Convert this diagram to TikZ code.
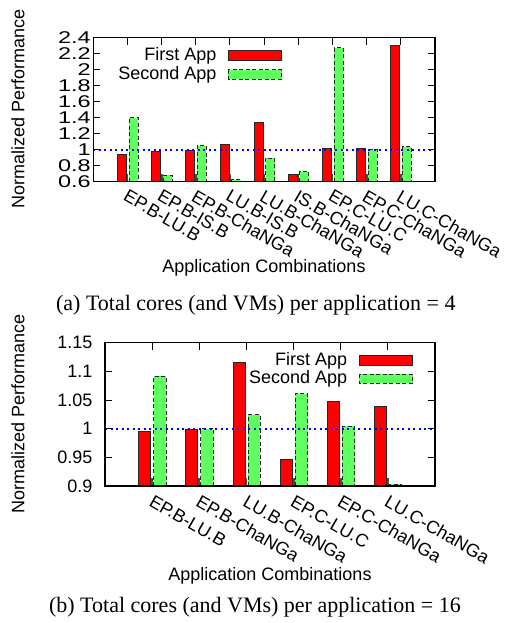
\documentclass[tikz,border=0pt]{standalone}
\usepackage{fontspec}
\setmainfont{Liberation Serif}
\newfontfamily\plotfont{Liberation Sans}
\begin{document}
\begin{tikzpicture}[x=1pt,y=-1pt,
  every node/.style={inner sep=0pt},
  plottext/.style={font=\plotfont\fontsize{18}{20}\selectfont},
  widetick/.style={font=\plotfont\fontsize{17}{19}\selectfont,xscale=1.38},
  capt/.style={font=\fontsize{22}{24}\selectfont},
  frame/.style={draw=black,line width=1.3pt},
  tickm/.style={draw=black,line width=1pt},
  redbar/.style={fill=red,draw=black!85,line width=0.9pt},
  greenbar/.style={fill={rgb,255:red,95;green,255;blue,95},draw=black!85,line width=0.9pt,dash pattern=on 4pt off 2.5pt},
  refline/.style={draw=blue,line width=2pt,dash pattern=on 2pt off 3.5pt},
  xlab/.style={plottext,rotate=-30,anchor=north west}]
\useasboundingbox (0,0) rectangle (508,623);

% ================= TOP PLOT =================
\def\XA{93.3}\def\XB{435}\def\YA{181.7}\def\YT{37.7}
\def\XU{34.17}
\foreach \v/\t in {0.6/0.6,0.8/0.8,1.0/1,1.2/1.2,1.4/1.4,1.6/1.6,1.8/1.8,2.0/2,2.2/2.2,2.4/2.4}{
  \pgfmathsetmacro{\yy}{\YA-(\v-0.6)*80}
  \node[widetick,anchor=east] (ta\t) at (91,\yy) {\t};
  \draw[tickm] (\XA,\yy) -- ++(7,0);
  \draw[tickm] (\XB,\yy) -- ++(-7,0);
}
\foreach \i/\r/\g/\lab in {1/0.946/1.40/EP.B-LU.B,2/0.975/0.68/EP.B-IS.B,3/0.99/1.05/EP.B-ChaNGa,4/1.06/0.625/LU.B-IS.B,5/1.34/0.896/LU.B-ChaNGa,6/0.69/0.725/IS.B-ChaNGa,7/1.01/2.275/EP.C-LU.C,8/1.017/1.0/EP.C-ChaNGa,9/2.305/1.04/LU.C-ChaNGa}{
  \pgfmathsetmacro{\tx}{\XA+\i*\XU}
  \pgfmathsetmacro{\yr}{\YA-(\r-0.6)*80}
  \pgfmathsetmacro{\yg}{\YA-(\g-0.6)*80}
  \draw[tickm] (\tx,\YT) -- ++(0,7);
  \draw[line width=2pt,draw=black!70] (\tx,\YA) -- ++(0,-8);
  \draw[redbar] (\tx-10,\YA) rectangle (\tx-1,\yr);
  \draw[greenbar] (\tx+1.6,\YA) rectangle (\tx+10.6,\yg);
  \node[xlab] (xa\i) at (\tx+1,\YA+7) {\lab};
}
\pgfmathsetmacro{\yone}{\YA-0.4*80}
\coordinate (ra1) at (\XA,\yone);
\coordinate (ra2) at (\XB,\yone);
\draw[refline] (ra1) -- (ra2);
\node[plottext,anchor=east] (la1) at (216.7,56) {First App};
\node[plottext,anchor=east] (la2) at (216.7,74.5) {Second App};
\draw[redbar] (228.3,50.7) rectangle (281.7,60.7);
\draw[greenbar] (228.3,69.7) rectangle (281.7,79);
\draw[frame] (\XA,\YT) rectangle (\XB,\YA);
\node[plottext] (xta) at (264,268) {Application Combinations};
\node[plottext,rotate=90] (yta) at (18,109) {Normalized Performance};
\node[capt,anchor=base] (capa) at (255.8,310) {(a) Total cores (and VMs) per application = 4};

% ================= BOTTOM PLOT =================
\def\XC{105}\def\XD{435}\def\YC{486}\def\YS{342.7}
\def\XV{47.14}
\foreach \v/\t in {0.9/0.9,0.95/0.95,1.0/1,1.05/1.05,1.1/1.1,1.15/1.15}{
  \pgfmathsetmacro{\yy}{\YC-(\v-0.9)*573.3}
  \node[plottext,anchor=east] (tb\t) at (92.7,\yy) {\t};
  \draw[tickm] (\XC,\yy) -- ++(7,0);
  \draw[tickm] (\XD,\yy) -- ++(-7,0);
}
\foreach \i/\r/\g/\lab in {1/0.996/1.091/EP.B-LU.B,2/0.999/1.0/EP.B-ChaNGa,3/1.116/1.024/LU.B-ChaNGa,4/0.947/1.061/EP.C-LU.C,5/1.048/1.004/EP.C-ChaNGa,6/1.038/0.9035/LU.C-ChaNGa}{
  \pgfmathsetmacro{\tx}{\XC+\i*\XV}
  \pgfmathsetmacro{\yr}{\YC-(\r-0.9)*573.3}
  \pgfmathsetmacro{\yg}{\YC-(\g-0.9)*573.3}
  \draw[tickm] (\tx,\YS) -- ++(0,7);
  \draw[line width=2pt,draw=black!70] (\tx,\YC) -- ++(0,-8);
  \draw[redbar] (\tx-13.4,\YC) rectangle (\tx-1.4,\yr);
  \draw[greenbar] (\tx+1.6,\YC) rectangle (\tx+14,\yg);
  \node[xlab] (xb\i) at (\tx+2,\YC+8) {\lab};
}
\pgfmathsetmacro{\ytwo}{\YC-0.1*573.3}
\coordinate (rb1) at (\XC,\ytwo);
\coordinate (rb2) at (\XD,\ytwo);
\draw[refline] (rb1) -- (rb2);
\node[plottext,anchor=east] (lb1) at (347.3,360.7) {First App};
\node[plottext,anchor=east] (lb2) at (347.3,379) {Second App};
\draw[redbar] (359.3,355.7) rectangle (412.7,365.3);
\draw[greenbar] (359.3,374.3) rectangle (412.7,383.3);
\draw[frame] (\XC,\YS) rectangle (\XD,\YC);
\node[plottext] (xtb) at (270,576) {Application Combinations};
\node[plottext,rotate=90] (ytb) at (18,414) {Normalized Performance};
\node[capt,anchor=base] (capb) at (254.9,612) {(b) Total cores (and VMs) per application = 16};
\end{tikzpicture}
\end{document}
